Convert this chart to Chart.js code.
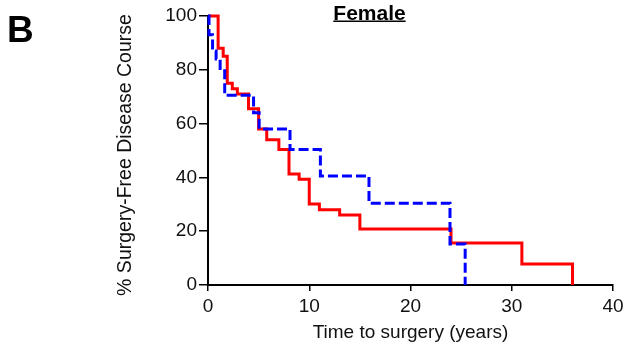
<!DOCTYPE html>
<html>
<head>
<meta charset="utf-8">
<script src="https://cdn.jsdelivr.net/npm/chart.js@4"></script>
<style>
  body { margin: 0; background: #fff; }
</style>
</head>
<body>
<canvas id="myChart" width="635" height="346"></canvas>
<script>
// Kaplan-Meier steps (years, % surgery-free)
const redTimes = [0, 1.0, 1.5, 1.9, 2.4, 2.9, 4.0, 5.0, 5.8, 7.0, 8.0, 9.0, 10.0, 11.0, 13.0, 15.0, 24.0, 31.0, 36.0];
const redValues = [100, 88, 85, 75, 73, 71, 65.5, 58, 54, 50.4, 41.3, 39.3, 30.1, 28, 26, 20.8, 15.6, 7.8, 0];

const blueTimes = [0, 0.1, 0.45, 0.8, 1.2, 1.65, 4.5, 5.05, 8.1, 11.1, 15.9, 23.9, 25.4];
const blueValues = [100, 93, 87, 84, 80.5, 70.5, 64, 58, 50.4, 40.5, 30.4, 15.2, 0];

const xTicks = [0, 10, 20, 30, 40];
const yTicks = [0, 20, 40, 60, 80, 100];

const FONT = '"Liberation Sans", Arial, sans-serif';

const toPoints = (xs, ys) => xs.map((x, i) => ({ x: x, y: ys[i] }));

// draws the panel letter, the underlined title and the y axis label
const extraText = {
    id: 'extraText',
    afterDraw(chart) {
        const ctx = chart.ctx;
        ctx.save();
        ctx.fillStyle = '#000';
        ctx.textBaseline = 'alphabetic';

        ctx.font = 'bold 37px ' + FONT;
        ctx.textAlign = 'left';
        ctx.fillText('B', 7, 42);

        ctx.font = 'bold 21px ' + FONT;
        ctx.textAlign = 'center';
        const tx = 369.5;
        ctx.fillText('Female', tx, 19.5);
        const w = ctx.measureText('Female').width;
        ctx.fillRect(tx - w / 2, 20.5, w, 1.5);

        // y title, a bit below the axis middle like the original
        ctx.fillStyle = '#111';
        ctx.font = '19.5px ' + FONT;
        ctx.textBaseline = 'middle';
        ctx.translate(126, 155);
        ctx.rotate(-Math.PI / 2);
        ctx.fillText('% Surgery-Free Disease Course', 0, 0);
        ctx.restore();
    }
};

const ctx = document.getElementById('myChart').getContext('2d');
const chart = new Chart(ctx, {
    type: 'line',
    data: {
        datasets: [
            {
                label: 'blue',
                data: toPoints(blueTimes, blueValues),
                borderColor: '#0000ff',
                borderWidth: 3,
                borderDash: [10, 4],
                stepped: true,
                pointRadius: 0,
                fill: false,
                clip: 6
            },
            {
                label: 'red',
                data: toPoints(redTimes, redValues),
                borderColor: '#ff0000',
                borderWidth: 3,
                stepped: true,
                pointRadius: 0,
                fill: false,
                clip: 6
            }
        ]
    },
    options: {
        responsive: false,
        animation: false,
        layout: { padding: { left: 0, right: 22, top: 16, bottom: 0 } },
        plugins: {
            legend: { display: false },
            tooltip: { enabled: false }
        },
        scales: {
            x: {
                type: 'linear',
                min: 0,
                max: 40,
                afterBuildTicks: (scale) => { scale.ticks = xTicks.map(v => ({ value: v })); },
                afterFit: (scale) => { scale.height = 61; },
                grid: { drawOnChartArea: false, color: '#000', lineWidth: 1.5, tickLength: 6 },
                border: { color: '#000', width: 2 },
                ticks: { color: '#111', font: { family: FONT, size: 19 }, padding: 4, maxRotation: 0 },
                title: {
                    display: true,
                    text: 'Time to surgery (years)',
                    color: '#111',
                    font: { family: FONT, size: 19 },
                    padding: { top: 0, bottom: 2 }
                }
            },
            y: {
                min: 0,
                max: 100,
                afterBuildTicks: (scale) => { scale.ticks = yTicks.map(v => ({ value: v })); },
                afterFit: (scale) => { scale.width = 208; },
                grid: { drawOnChartArea: false, color: '#000', lineWidth: 1.5, tickLength: 9 },
                border: { color: '#000', width: 2 },
                ticks: { color: '#111', font: { family: FONT, size: 19 }, padding: 2 }
            }
        }
    },
    plugins: [extraText]
});
</script>
</body>
</html>
